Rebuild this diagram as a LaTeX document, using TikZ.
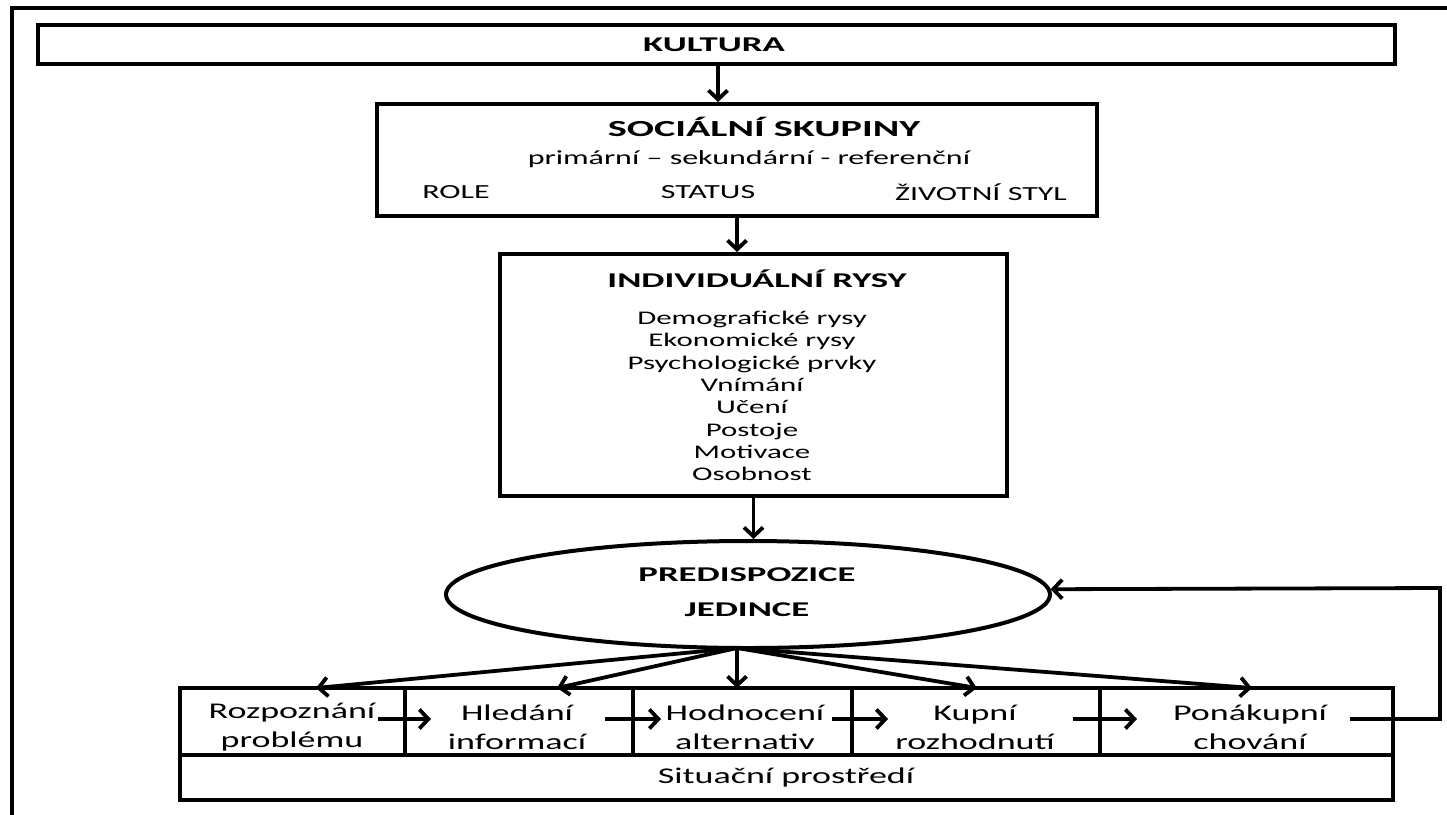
\documentclass[tikz,border=0pt]{standalone}
\usepackage{fontspec}
\setmainfont{Carlito}[FakeStretch=1.6]
\newfontfamily\bfam{Carlito}[FakeStretch=1.75]
\usetikzlibrary{arrows.meta,shapes.geometric}
\tikzset{
  box/.style={draw, line width=4pt, inner sep=0pt},
  arr/.style={line width=3.8pt, -{Straight Barb[length=9pt,width=19pt]}},
  ttl/.style={font=\bfam\bfseries\fontsize{21}{25}\selectfont, inner sep=0pt},
  txt/.style={font=\fontsize{20}{24}\selectfont, inner sep=0pt},
  cellt/.style={font=\fontsize{22.5}{29}\selectfont, align=center, inner sep=0pt},
}
\begin{document}
\begin{tikzpicture}[x=1pt,y=1pt]
\useasboundingbox (0,0) rectangle (1447,-814);
% outer frame (partly outside the picture)
\draw[line width=3.5pt] (12,-830) -- (12,-8) -- (1460,-8);

% KULTURA
\node[box, minimum width=1357pt, minimum height=39pt] (kult) at (716.5,-44.5) {};
\node[ttl] (kultT) at (714,-45) {KULTURA};

% Social groups
\node[box, minimum width=720pt, minimum height=112pt] (soc) at (737,-160) {};
\node[ttl, font=\bfam\bfseries\fontsize{23}{27}\selectfont] (socT) at (764,-127) {SOCIÁLNÍ SKUPINY};
\node[txt] (soc2) at (749,-159) {primární – sekundární - referenční};
\node[txt] (role) at (456,-192) {ROLE};
\node[txt] (status) at (708,-192) {STATUS};
\node[txt] (styl) at (981,-192) {ŽIVOTNÍ STYL};

% Individual traits
\node[box, minimum width=507pt, minimum height=242pt] (ind) at (753.5,-375) {};
\node[ttl] (indT) at (757,-279) {INDIVIDUÁLNÍ RYSY};
\node[txt, font=\fontsize{19.3}{22.3}\selectfont, align=center] (indL) at (752,-396)
  {Demografické rysy\\Ekonomické rysy\\Psychologické prvky\\Vnímání\\Učení\\Postoje\\Motivace\\Osobnost};

% Predisposition ellipse
\node[draw, ellipse, line width=4pt, inner sep=0pt, minimum width=604pt, minimum height=107pt] (ell) at (748,-594.5) {};
\node[ttl, align=center, font=\bfam\bfseries\fontsize{21}{35}\selectfont] (ellT) at (747,-592) {PREDISPOZICE\\JEDINCE};

% bottom process row
\node[box, minimum width=225pt, minimum height=67pt] (c1) at (292.5,-721.5) {};
\node[box, minimum width=228pt, minimum height=67pt] (c2) at (519,-721.5) {};
\node[box, minimum width=219pt, minimum height=67pt] (c3) at (742.5,-721.5) {};
\node[box, minimum width=248pt, minimum height=67pt] (c4) at (976,-721.5) {};
\node[box, minimum width=293pt, minimum height=67pt] (c5) at (1246.5,-721.5) {};
\node[box, minimum width=1213pt, minimum height=45pt] (sit) at (786.5,-777.5) {};
\node[cellt] (t1) at (292,-727) {Rozpoznání\\problému};
\node[cellt] (t2) at (517,-727) {Hledání\\informací};
\node[cellt] (t3) at (745,-727) {Hodnocení\\alternativ};
\node[cellt] (t4) at (975,-727) {Kupní\\rozhodnutí};
\node[cellt] (t5) at (1250,-727) {Ponákupní\\chování};
\node[cellt] (sitT) at (786,-777) {Situační prostředí};

% vertical arrows
\draw[arr] (kult.south -| 718,0) -- (soc.north -| 718,0);
\draw[arr] (soc.south) -- (soc.south |- ind.north);
\draw[arr] (ind.south) -- (ind.south |- ell.north);

% fan from ellipse
\coordinate (fan) at (737,-648);
\coordinate (e1) at (316,-688);
\coordinate (e2) at (557,-688);
\coordinate (e3) at (737,-688);
\coordinate (e4) at (977,-688);
\coordinate (e5) at (1252,-688);
\foreach \e in {e1,e2,e3,e4,e5} \draw[arr] (fan) -- (\e);

% horizontal arrows between stages
\coordinate (h1s) at (378,-719); \coordinate (h1e) at (431,-719);
\coordinate (h2s) at (605,-719); \coordinate (h2e) at (661,-719);
\coordinate (h3s) at (832,-719); \coordinate (h3e) at (888,-719);
\coordinate (h4s) at (1073,-719); \coordinate (h4e) at (1137,-719);
\draw[arr] (h1s) -- (h1e);
\draw[arr] (h2s) -- (h2e);
\draw[arr] (h3s) -- (h3e);
\draw[arr] (h4s) -- (h4e);

% feedback loop
\coordinate (fbs) at (1350,-719);
\coordinate (fbc) at (1440,-719);
\coordinate (fbt) at (1440,-588);
\draw[arr, line join=miter] (fbs) -- (fbc) -- (fbt) -- (ell.1.2);
\end{tikzpicture}
\end{document}
